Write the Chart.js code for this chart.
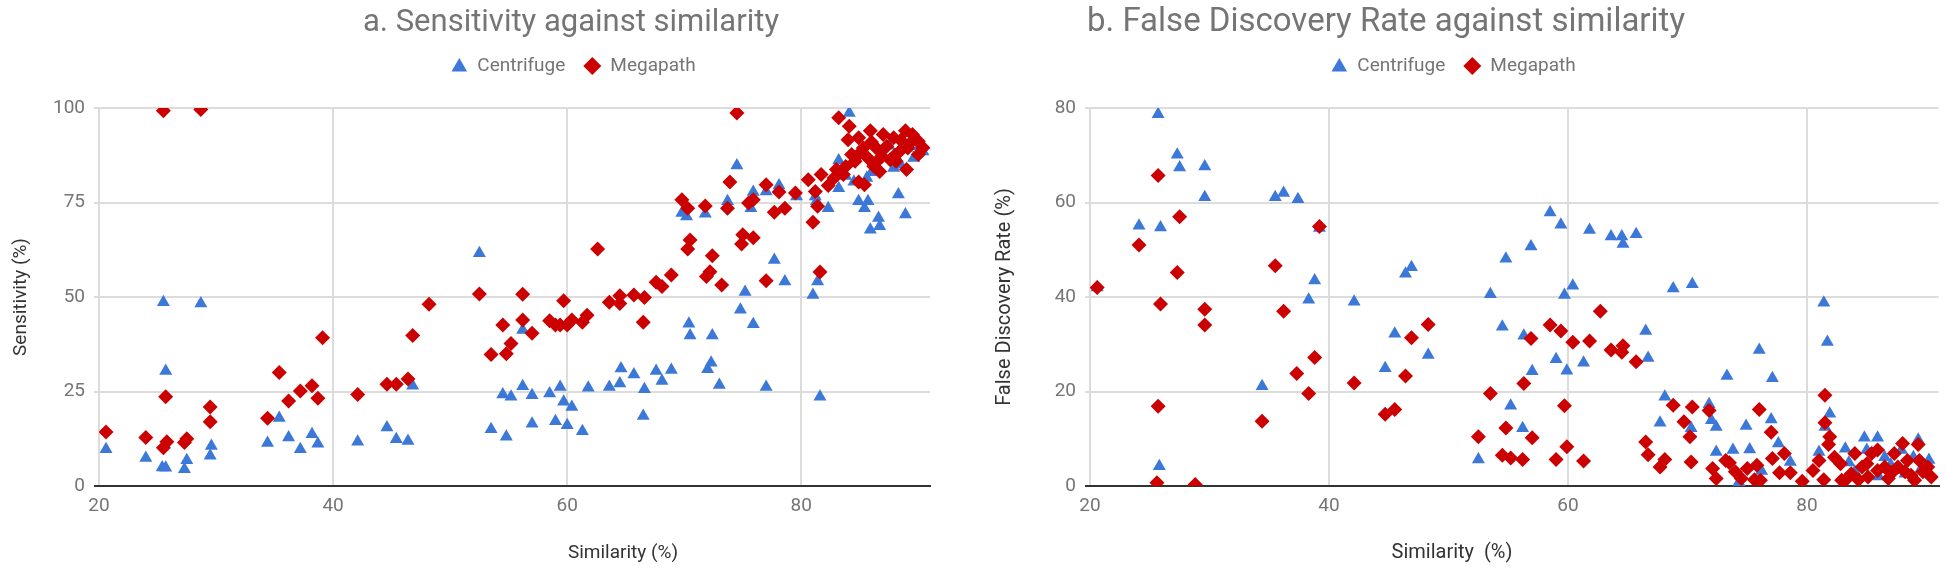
<!DOCTYPE html>
<html>
<head>
<meta charset="utf-8">
<title>Sensitivity / FDR against similarity</title>
<script src="https://cdn.jsdelivr.net/npm/chart.js@4.4.1/dist/chart.umd.min.js"></script>
<style>
  html, body { margin: 0; padding: 0; background: #fff; }
  #page { position: relative; width: 1946px; height: 571px; overflow: hidden; }
  .frame { position: absolute; top: 0; width: 973px; height: 571px; }
  #frame-a { left: 0; }
  #frame-b { left: 973px; }
</style>
</head>
<body>
<div id="page">
  <div class="frame" id="frame-a"><canvas id="chart-a" width="973" height="571"></canvas></div>
  <div class="frame" id="frame-b"><canvas id="chart-b" width="973" height="571"></canvas></div>
</div>
<script>
/* ---- data: [similarity %, value %] ---- */
const SERIES = ['Centrifuge', 'Megapath'];
const X_TICKS = [20, 40, 60, 80];
const Y_TICKS_A = [0, 25, 50, 75, 100];
const Y_TICKS_B = [0, 20, 40, 60, 80];

// a. sensitivity
const sensCentrifuge = [
  [25.5,48.6],[28.7,48.3],[25.7,30.4],[52.5,61.6],[46.8,26.5],[35.4,18.0],[20.6,9.7],[24.0,7.4],
  [25.7,4.8],[25.4,4.9],[27.3,4.4],[27.5,6.8],[29.6,10.6],[29.5,8.0],[34.4,11.4],[36.2,12.8],[37.2,9.7],
  [38.2,13.7],[38.7,11.2],[42.1,11.7],[44.6,15.5],[45.4,12.4],[46.4,11.9],[53.5,15.0],[54.5,24.2],
  [54.8,13.0],[55.2,23.6],[56.2,41.3],[56.2,26.4],[57.0,24.0],[57.0,16.5],[58.5,24.5],[59.0,17.1],
  [59.4,26.2],[59.7,22.3],[60.0,16.1],[60.4,20.9],[61.3,14.5],[61.8,26.0],[63.6,26.2],[64.6,31.1],
  [64.5,27.1],[65.7,29.5],[66.6,25.6],[66.5,18.5],[67.6,30.4],[68.1,27.8],[68.9,30.7],[69.8,72.2],
  [70.2,71.3],[71.8,72.0],[70.4,42.9],[70.5,39.8],[72.4,39.8],[72.3,32.6],[72.0,30.9],[73.0,26.7],
  [84.1,98.7],[74.5,84.8],[73.7,75.3],[75.9,77.8],[75.7,73.5],[77.0,77.9],[78.1,79.5],[79.6,76.6],
  [77.7,59.8],[78.6,54.1],[75.2,51.3],[74.8,46.6],[75.9,42.8],[77.0,26.2],[81.6,23.6],[81.0,50.5],
  [81.4,54.1],[81.3,75.3],[82.3,73.5],[81.2,76.6],[83.2,86.1],[83.2,78.8],[84.9,75.3],[85.7,75.3],
  [85.4,73.5],[86.6,70.9],[85.9,67.8],[86.7,68.7],[88.3,77.1],[88.9,71.8],[86.9,88.1],[87.9,84.1],
  [89.6,86.8],[90.1,89.9],[85.6,81.5],[84.5,80.5],[86.0,83.0],[87.5,90.0],[89.0,89.5],[88.5,85.0],
  [90.4,88.5],[83.8,82.0]
];
const sensMegapath = [
  [25.5,99.3],[28.7,99.6],[39.1,39.2],[48.2,48.1],[46.8,39.8],[52.5,50.8],[54.5,42.6],[53.5,34.8],
  [35.4,30.0],[37.2,25.1],[38.2,26.5],[36.2,22.5],[38.7,23.2],[42.1,24.2],[44.6,26.9],[45.4,26.9],
  [46.4,28.3],[25.7,23.6],[29.5,20.9],[29.5,17.0],[34.4,17.9],[20.6,14.3],[24.0,12.8],[25.8,11.7],
  [25.5,10.1],[27.3,11.5],[27.5,12.5],[54.8,35.0],[55.2,37.7],[56.2,50.7],[56.2,43.9],[57.0,40.4],
  [58.5,43.7],[59.0,42.6],[59.4,42.6],[59.7,49.0],[60.0,42.6],[60.4,43.9],[61.3,43.3],[61.7,45.2],
  [62.6,62.7],[63.6,48.6],[64.5,50.3],[64.5,48.3],[65.7,50.5],[66.6,49.9],[66.5,43.3],[67.6,53.9],
  [68.1,52.8],[68.9,55.8],[69.8,75.7],[70.3,73.5],[71.8,74.1],[70.5,65.1],[70.3,62.7],[72.4,60.9],
  [72.2,56.7],[71.9,55.4],[73.2,53.2],[74.5,98.7],[73.9,80.4],[73.7,73.5],[75.5,74.9],[75.9,75.7],
  [77.0,79.7],[78.1,77.8],[77.7,72.4],[78.6,73.5],[79.5,77.5],[75.0,66.5],[74.9,64.0],[75.9,65.7],
  [77.0,54.3],[81.6,56.6],[81.0,69.8],[81.4,74.0],[81.2,77.9],[80.6,81.0],[81.7,82.4],[82.3,79.5],
  [83.2,97.4],[84.1,95.2],[85.9,94.0],[84.0,91.6],[84.9,92.1],[83.0,83.7],[83.6,82.4],[84.3,87.7],
  [84.6,85.9],[85.3,89.4],[85.7,86.8],[86.2,84.6],[86.7,83.2],[84.9,80.4],[85.4,79.7],[87.3,89.9],
  [87.9,92.1],[88.9,94.0],[88.4,88.5],[89.6,91.6],[90.0,91.2],[90.0,87.7],[89.0,83.7],[88.1,85.9],
  [86.4,89.4],[86.9,87.2],[87.6,86.3],[89.1,89.4],[82.8,81.5],[83.8,84.5],[85.0,88.0],[86.0,91.0],
  [87.0,93.0],[88.5,91.5],[89.5,93.0],[90.4,89.5],[88.0,87.5],[86.5,86.0]
];

// b. false discovery rate
const fdrCentrifuge = [
  [20.6,42.0],[25.7,78.7],[24.1,55.1],[25.9,54.7],[27.3,70.1],[27.5,67.4],[29.6,67.6],[29.6,61.1],
  [25.8,4.2],[34.4,21.1],[35.5,61.1],[36.2,62.0],[37.4,60.7],[39.2,54.6],[38.8,43.5],[38.3,39.4],
  [42.1,39.0],[46.4,44.9],[46.9,46.3],[45.5,32.2],[44.7,24.9],[48.3,27.7],[58.5,57.9],[59.4,55.3],
  [61.8,54.2],[63.6,52.8],[64.5,52.8],[64.6,51.2],[65.7,53.3],[56.9,50.7],[54.8,48.1],[53.5,40.6],
  [60.4,42.4],[59.7,40.4],[68.8,41.8],[70.4,42.7],[54.5,33.7],[56.3,31.8],[66.5,32.8],[59.0,26.8],
  [61.3,26.1],[59.9,24.4],[57.0,24.3],[66.7,27.1],[55.2,17.0],[56.2,12.2],[52.5,5.6],[68.1,18.9],
  [67.7,13.4],[70.3,12.2],[81.4,38.8],[81.7,30.5],[76.0,28.8],[73.3,23.3],[77.1,22.8],[71.8,17.3],
  [72.0,13.9],[72.4,12.5],[74.9,12.7],[77.0,14.1],[81.9,15.3],[81.5,12.5],[77.6,9.0],[72.4,7.2],
  [73.8,7.6],[75.2,7.7],[78.6,5.1],[76.2,3.2],[81.0,7.2],[83.2,7.9],[84.8,10.2],[85.9,10.2],
  [89.3,9.8],[88.9,6.1],[87.9,7.6],[86.5,6.1],[85.0,7.6],[88.2,2.6],[74.3,0.8],[84.0,3.0],
  [86.0,2.0],[87.0,4.5],[89.5,3.5],[90.2,5.5],[83.5,5.0]
];
const fdrMegapath = [
  [20.6,42.0],[25.7,65.7],[24.1,51.0],[27.5,57.0],[27.3,45.2],[25.9,38.5],[29.6,37.4],[29.6,34.1],
  [25.7,16.9],[25.6,0.7],[28.8,0.3],[34.4,13.7],[35.5,46.6],[36.2,37.0],[37.3,23.8],[38.8,27.2],
  [38.3,19.6],[39.2,54.9],[42.1,21.8],[44.7,15.2],[45.5,16.2],[46.4,23.3],[46.9,31.4],[48.3,34.2],
  [62.7,37.0],[58.5,34.1],[59.4,32.8],[60.4,30.4],[61.8,30.7],[56.9,31.2],[63.6,28.8],[64.6,29.7],
  [64.5,28.3],[65.7,26.3],[56.3,21.7],[53.5,19.6],[59.7,17.0],[54.8,12.3],[52.5,10.4],[57.0,10.2],
  [59.9,8.3],[54.5,6.5],[55.2,5.9],[56.2,5.6],[59.0,5.6],[61.3,5.3],[68.8,17.1],[70.4,16.7],
  [66.5,9.3],[66.7,6.6],[68.1,5.6],[67.7,4.0],[69.7,13.6],[70.2,10.4],[70.3,5.1],[81.5,19.2],
  [71.8,16.0],[76.0,16.2],[81.5,13.4],[77.0,11.4],[81.9,10.4],[81.8,8.8],[72.1,3.7],[72.4,1.6],
  [73.2,5.4],[73.5,4.9],[74.0,3.0],[74.5,1.6],[75.0,3.7],[75.8,4.4],[75.6,1.3],[76.1,1.2],
  [77.1,5.8],[77.7,2.8],[78.1,6.9],[78.6,2.8],[79.6,1.0],[80.5,3.3],[81.0,5.4],[81.4,1.3],
  [82.3,6.1],[82.8,4.7],[83.2,1.2],[84.0,6.9],[83.7,2.6],[84.6,4.0],[85.4,6.9],[85.9,7.6],
  [85.1,1.9],[85.9,3.3],[86.8,1.6],[87.3,6.9],[88.0,9.0],[87.6,4.0],[88.4,5.4],[89.3,8.8],
  [89.4,5.4],[89.7,3.0],[90.4,1.9],[89.0,1.2],[90.1,4.0],[86.5,4.0],[84.3,1.3],[82.9,1.2],
  [85.0,4.7],[87.1,2.8],[88.2,3.0],[88.7,2.3]
];

/* ---- style ---- */
const BLUE = '#3c78d8';
const RED = '#cc0000';
const GRID = '#dcdcdc';
const AXIS = '#333333';
const MUTED = '#757575';
const DARK = '#333333';
const FONT = 'Roboto, "Noto Sans", sans-serif';

Chart.defaults.font.family = FONT;
Chart.defaults.color = MUTED;

const toPts = (arr) => arr.map(([x, y]) => ({ x, y }));

// small marker shapes for the hand-placed legend
function marker(ctx, style, x, y, r) {
  ctx.beginPath();
  if (style === 'triangle') {
    ctx.moveTo(x, y - r);
    ctx.lineTo(x + r * 0.866, y + r * 0.5);
    ctx.lineTo(x - r * 0.866, y + r * 0.5);
  } else {
    ctx.moveTo(x, y - r);
    ctx.lineTo(x + r, y);
    ctx.lineTo(x, y + r);
    ctx.lineTo(x - r, y);
  }
  ctx.closePath();
  ctx.fill();
}

// title, legend and x axis title drawn at fixed spots (Google-chart style layout)
const pageText = {
  id: 'pageText',
  afterDraw(chart, args, o) {
    const ctx = chart.ctx;
    ctx.save();
    ctx.textBaseline = 'middle';

    ctx.font = `${o.titleSize}px ${FONT}`;
    ctx.fillStyle = MUTED;
    ctx.textAlign = 'center';
    ctx.fillText(o.title, o.titleX, o.titleY);

    // legend
    ctx.font = `${o.legendSize}px ${FONT}`;
    const items = [
      { text: SERIES[0], style: 'triangle', color: BLUE },
      { text: SERIES[1], style: 'rectRot', color: RED },
    ];
    const mw = 18, gap = 9, between = 18;
    let total = 0;
    items.forEach((it, i) => {
      it.w = ctx.measureText(it.text).width;
      total += mw + gap + it.w + (i ? between : 0);
    });
    let x = o.legendX - total / 2;
    ctx.textAlign = 'left';
    items.forEach((it, i) => {
      if (i) x += between;
      ctx.fillStyle = it.color;
      marker(ctx, it.style, x + mw / 2, o.legendY + (it.style === 'triangle' ? 1 : 0), 9);
      x += mw + gap;
      ctx.fillStyle = MUTED;
      ctx.fillText(it.text, x, o.legendY);
      x += it.w;
    });

    ctx.font = `${o.axisSize}px ${FONT}`;
    ctx.fillStyle = DARK;
    ctx.textAlign = 'center';
    ctx.fillText(o.xTitle, o.xTitleX, o.xTitleY);
    ctx.restore();
  }
};

function drawScatter(id, cfg) {
  new Chart(document.getElementById(id), {
    type: 'scatter',
    data: {
      datasets: [
        {
          label: SERIES[0], data: toPts(cfg.cen), pointStyle: 'triangle',
          pointRadius: 7.5, pointHoverRadius: 7.5, backgroundColor: BLUE, borderWidth: 0, order: 1,
        },
        {
          label: SERIES[1], data: toPts(cfg.meg), pointStyle: 'rectRot',
          pointRadius: 7.5, pointHoverRadius: 7.5, backgroundColor: RED, borderWidth: 0, order: 0,
        },
      ]
    },
    options: {
      responsive: false, animation: false,
      layout: { padding: { left: 0, right: cfg.padRight, top: 108, bottom: 45 } },
      plugins: {
        legend: { display: false },
        tooltip: { enabled: false },
        pageText: cfg.text,
      },
      scales: {
        x: {
          type: 'linear', min: 20, max: 91,
          afterBuildTicks: (s) => { s.ticks = X_TICKS.map(v => ({ value: v })); },
          afterFit: (s) => { s.height = 40; },
          grid: { color: GRID, lineWidth: 2, drawTicks: false },
          border: { display: true, color: AXIS, width: 2 },
          ticks: { padding: 9, color: MUTED, font: { size: cfg.tickSize } },
        },
        y: {
          type: 'linear', min: 0, max: cfg.yMax,
          afterBuildTicks: (s) => { s.ticks = cfg.yTicks.map(v => ({ value: v })); },
          afterFit: (s) => { s.width = cfg.yWidth; },
          grid: {
            color: (c) => (c.tick && c.tick.value === 0 ? AXIS : GRID),
            lineWidth: 2, drawTicks: true, tickLength: 5,
          },
          border: { display: false },
          ticks: { padding: 9, color: MUTED, font: { size: cfg.tickSize } },
          title: {
            display: true, text: cfg.yTitle, color: DARK,
            font: { size: cfg.text.axisSize }, padding: { top: cfg.yTitlePad, bottom: 0 },
          },
        }
      }
    },
    plugins: [pageText]
  });
}

drawScatter('chart-a', {
  cen: sensCentrifuge, meg: sensMegapath,
  yMax: 100, yTicks: Y_TICKS_A, yWidth: 99, padRight: 43, tickSize: 19,
  yTitle: 'Sensitivity (%)', yTitlePad: 10,
  text: {
    title: 'a. Sensitivity against similarity', titleX: 571, titleY: 23, titleSize: 31,
    legendX: 573, legendY: 66, legendSize: 19,
    xTitle: 'Similarity (%)', xTitleX: 623, xTitleY: 553, axisSize: 19,
  }
});

drawScatter('chart-b', {
  cen: fdrCentrifuge, meg: fdrMegapath,
  yMax: 80, yTicks: Y_TICKS_B, yWidth: 117, padRight: 2, tickSize: 19,
  yTitle: 'False Discovery Rate (%)', yTitlePad: 20,
  text: {
    title: 'b. False Discovery Rate against similarity', titleX: 413, titleY: 23, titleSize: 33,
    legendX: 480, legendY: 66, legendSize: 19,
    xTitle: 'Similarity  (%)', xTitleX: 479, xTitleY: 553, axisSize: 20,
  }
});
</script>
</body>
</html>
